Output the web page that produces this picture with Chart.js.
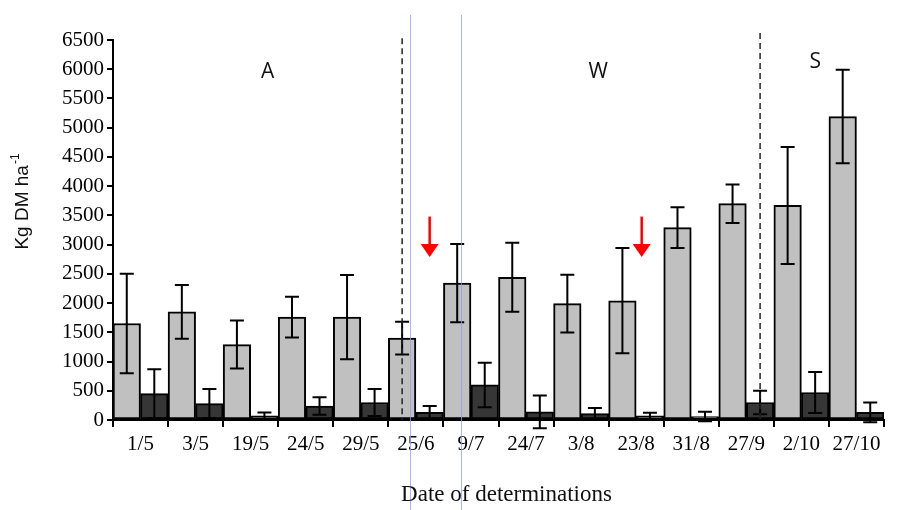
<!DOCTYPE html>
<html>
<head>
<meta charset="utf-8">
<script src="https://cdn.jsdelivr.net/npm/chart.js@4.4.1/dist/chart.umd.min.js"></script>
<style>
  html, body { margin: 0; padding: 0; background: #fff; }
  #wrap { width: 898px; height: 510px; }
</style>
</head>
<body>
<div id="wrap"><canvas id="chart" width="898" height="510"></canvas></div>
<script>
// dates of determination
const labels = ['1/5', '3/5', '19/5', '24/5', '29/5', '25/6', '9/7', '24/7', '3/8', '23/8', '31/8', '27/9', '2/10', '27/10'];

// light bars (mean and error)
const lightMean = [1650, 1850, 1290, 1760, 1760, 1400, 2340, 2440, 1990, 2040, 3290, 3700, 3670, 5190];
const lightErr = [850, 460, 410, 350, 720, 280, 670, 590, 495, 900, 350, 330, 1000, 800];

// dark bars (mean and error)
const darkMean = [450, 280, 70, 240, 300, 130, 600, 140, 110, 70, 60, 300, 470, 130];
const darkErr = [420, 250, 60, 150, 230, 110, 380, 280, 95, 55, 80, 200, 350, 170];

const yTicks = { min: 0, max: 6500, step: 500 };

// period labels and the dividers between them
const periods = [
  { text: 'A', x: 2.31, y: 5950 },
  { text: 'W', x: 8.31, y: 5950 },
  { text: 'S', x: 12.25, y: 6120 }
];
const dividers = [{ x: 4.75, top: 6530 }, { x: 11.25, top: 6620 }];
const blueLines = [4.89, 5.82];
const arrows = [{ x: 5.25, from: 3480, to: 2790 }, { x: 9.1, from: 3480, to: 2790 }];

const serif = 'Liberation Serif, Times New Roman, serif';

const errorBars = {
  id: 'errorBars',
  afterDatasetsDraw(chart) {
    const ctx = chart.ctx;
    const y = chart.scales.y;
    const errs = [lightErr, darkErr];
    ctx.save();
    ctx.strokeStyle = '#000';
    ctx.lineWidth = 2;
    chart.data.datasets.forEach((ds, i) => {
      chart.getDatasetMeta(i).data.forEach((bar, j) => {
        const hi = y.getPixelForValue(ds.data[j] + errs[i][j]);
        const lo = y.getPixelForValue(ds.data[j] - errs[i][j]);
        ctx.beginPath();
        ctx.moveTo(bar.x, hi); ctx.lineTo(bar.x, lo);
        ctx.moveTo(bar.x - 7, hi); ctx.lineTo(bar.x + 7, hi);
        ctx.moveTo(bar.x - 7, lo); ctx.lineTo(bar.x + 7, lo);
        ctx.stroke();
      });
    });
    ctx.restore();
  }
};

const decorations = {
  id: 'decorations',
  afterDraw(chart) {
    const ctx = chart.ctx;
    const x = chart.scales.x;
    const y = chart.scales.y;
    const area = chart.chartArea;
    ctx.save();

    // thin blue lines
    ctx.strokeStyle = 'rgba(150,150,255,0.75)';
    ctx.lineWidth = 1;
    blueLines.forEach((v) => {
      const px = Math.round(x.getPixelForValue(v)) + 0.5;
      ctx.beginPath();
      ctx.moveTo(px, area.top - 25);
      ctx.lineTo(px, chart.height);
      ctx.stroke();
    });

    // dashed dividers
    ctx.strokeStyle = '#222';
    ctx.lineWidth = 1.5;
    ctx.setLineDash([6, 4]);
    dividers.forEach((d) => {
      const px = x.getPixelForValue(d.x);
      ctx.beginPath();
      ctx.moveTo(px, y.getPixelForValue(d.top));
      ctx.lineTo(px, area.bottom);
      ctx.stroke();
    });
    ctx.setLineDash([]);

    // red arrows
    ctx.strokeStyle = '#ff0000';
    ctx.fillStyle = '#ff0000';
    ctx.lineWidth = 2.5;
    arrows.forEach((a) => {
      const px = x.getPixelForValue(a.x);
      const top = y.getPixelForValue(a.from);
      const tip = y.getPixelForValue(a.to);
      ctx.beginPath();
      ctx.moveTo(px, top);
      ctx.lineTo(px, tip - 10);
      ctx.stroke();
      ctx.beginPath();
      ctx.moveTo(px - 9, tip - 13);
      ctx.lineTo(px + 9, tip - 13);
      ctx.lineTo(px, tip);
      ctx.closePath();
      ctx.fill();
    });

    // period letters
    ctx.fillStyle = '#111';
    ctx.font = '21px "Open Sans", sans-serif';
    ctx.textAlign = 'center';
    ctx.textBaseline = 'middle';
    periods.forEach((p) => {
      ctx.fillText(p.text, x.getPixelForValue(p.x), y.getPixelForValue(p.y));
    });

    // axis titles
    ctx.font = '23px ' + serif;
    ctx.fillText('Date of determinations', (area.left + area.right) / 2 + 8, 495);

    ctx.translate(23, 202);
    ctx.rotate(-Math.PI / 2);
    ctx.font = '19px "Liberation Sans", Arial, sans-serif';
    const main = 'Kg DM ha';
    const w = ctx.measureText(main).width;
    ctx.font = '12px "Liberation Sans", Arial, sans-serif';
    const sw = ctx.measureText('-1').width;
    ctx.textAlign = 'left';
    ctx.font = '19px "Liberation Sans", Arial, sans-serif';
    ctx.fillText(main, -(w + sw) / 2, 0);
    ctx.font = '12px "Liberation Sans", Arial, sans-serif';
    ctx.fillText('-1', -(w + sw) / 2 + w + 1, -7);
    ctx.restore();
  }
};

new Chart(document.getElementById('chart'), {
  type: 'bar',
  plugins: [errorBars, decorations],
  data: {
    labels: labels,
    datasets: [{
      data: lightMean,
      backgroundColor: '#c0c0c0',
      borderColor: '#000',
      borderWidth: 2,
      borderSkipped: false
    }, {
      data: darkMean,
      backgroundColor: '#363636',
      borderColor: '#000',
      borderWidth: 2,
      borderSkipped: false
    }]
  },
  options: {
    responsive: false,
    animation: false,
    categoryPercentage: 1,
    barPercentage: 1,
    layout: { padding: { top: 40, right: 14, left: 0, bottom: 0 } },
    plugins: {
      legend: { display: false },
      tooltip: { enabled: false },
      title: { display: false }
    },
    scales: {
      x: {
        afterFit: (scale) => { scale.height = 90; },
        grid: { drawOnChartArea: false, tickLength: 7, color: '#000', lineWidth: 2, offset: true },
        border: { display: true, color: '#000', width: 2 },
        ticks: { font: { family: serif, size: 21 }, color: '#000', padding: 5, maxRotation: 0, autoSkip: false }
      },
      y: {
        min: yTicks.min,
        max: yTicks.max,
        afterFit: (scale) => { scale.width = 113; },
        grid: { drawOnChartArea: false, tickLength: 6, color: '#000', lineWidth: 2 },
        border: { display: true, color: '#000', width: 2 },
        ticks: {
          stepSize: yTicks.step,
          font: { family: serif, size: 21 },
          color: '#000',
          padding: 3,
          callback: (v) => String(v)
        }
      }
    }
  }
});
</script>
</body>
</html>
